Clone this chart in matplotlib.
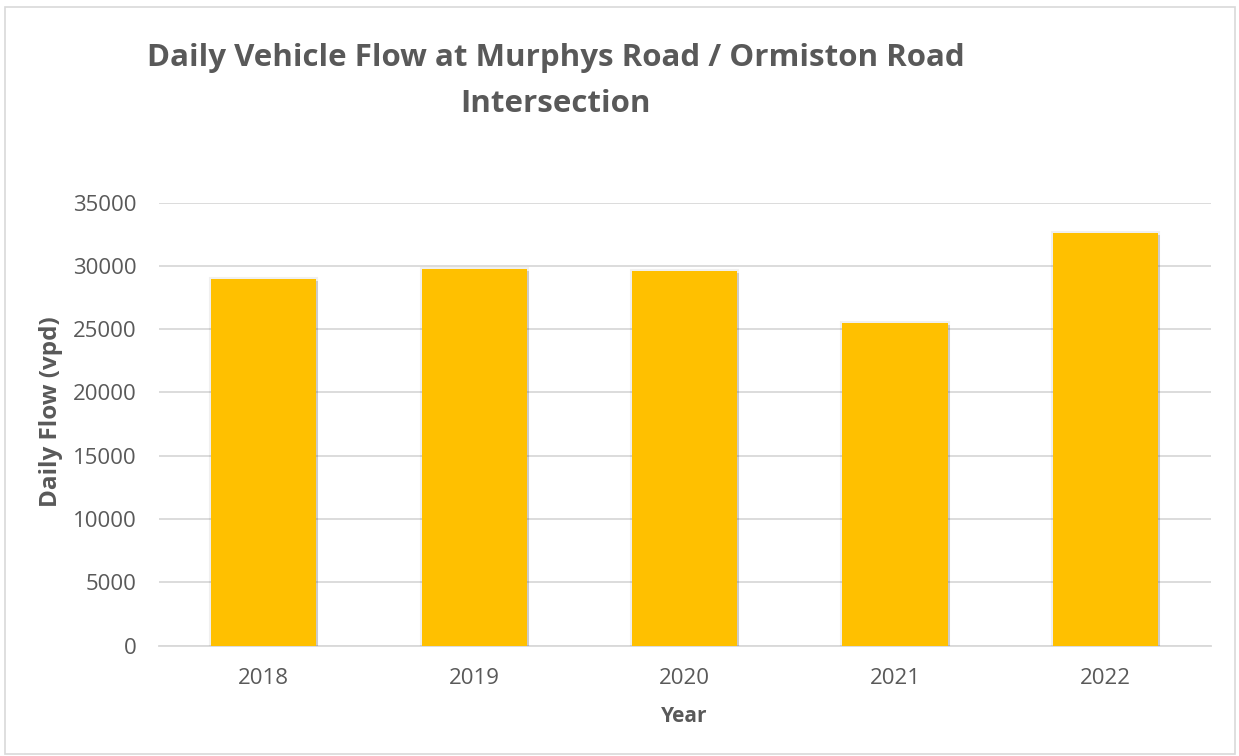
import matplotlib.pyplot as plt
import matplotlib.patheffects as pe
from matplotlib.patches import Rectangle

# Values
years = ['2018', '2019', '2020', '2021', '2022']
flow = [28970, 29760, 29620, 25460, 32630]

text_col = '#595959'
plt.rcParams['font.family'] = ['Open Sans', 'DejaVu Sans']

fig = plt.figure(figsize=(12.39, 7.56), dpi=100)
ax = fig.add_axes([0.128, 0.146, 0.849, 0.586])

bars = ax.bar(years, flow, width=0.5, color='#FFC000', zorder=3)
for b in bars:
    b.set_path_effects([pe.SimplePatchShadow(offset=(1.5, -1.5), shadow_rgbFace='#7f7f7f', alpha=0.3),
                        pe.Stroke(linewidth=3, foreground='#000000', alpha=0.06),
                        pe.Normal()])

ax.set_ylim(0, 35000)
ax.set_yticks(range(0, 35001, 5000))
ax.set_xlim(-0.5, 4.5)
ax.grid(axis='y', color='#d9d9d9', linewidth=1.3, zorder=0)
ax.tick_params(length=0, labelsize=16, colors=text_col)
ax.tick_params(axis='x', pad=16)
ax.tick_params(axis='y', pad=16)
for s in ['top', 'right', 'left']:
    ax.spines[s].set_visible(False)
ax.spines['bottom'].set_color('#d9d9d9')
ax.spines['bottom'].set_linewidth(1.3)

ax.set_xlabel('Year', fontsize=15, fontweight='bold', color=text_col)
ax.xaxis.label.set_va('baseline')
ax.xaxis.set_label_coords(0.5, -0.173)
ax.set_ylabel('Daily Flow (vpd)', fontsize=17.5, fontweight='bold', color=text_col)
ax.yaxis.label.set_va('center')
ax.yaxis.set_label_coords(-0.102, 0.528)

fig.text(0.4483, 0.9131, 'Daily Vehicle Flow at Murphys Road / Ormiston Road',
         ha='center', va='baseline', fontsize=22.5, fontweight='bold', color=text_col)
fig.text(0.4483, 0.8522, 'Intersection',
         ha='center', va='baseline', fontsize=22.5, fontweight='bold', color=text_col)

# outer chart border
fig.patches.append(Rectangle((0.004, 0.003), 0.993, 0.988, transform=fig.transFigure,
                             fill=False, edgecolor='#d9d9d9', linewidth=1.2))

fig.savefig('out.png', dpi=100)
